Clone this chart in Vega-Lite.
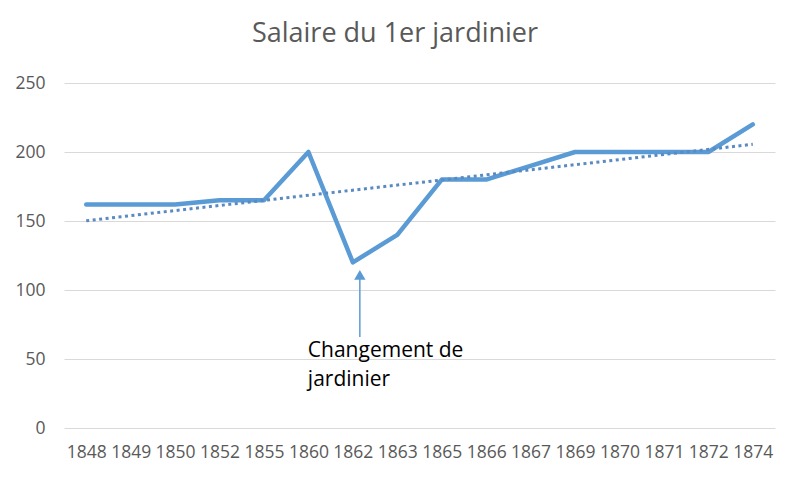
{
  "$schema": "https://vega.github.io/schema/vega-lite/v6.json",
  "width": 711,
  "height": 345,
  "autosize": {"type": "none"},
  "padding": {"left": 64, "top": 83, "right": 25, "bottom": 53},
  "background": "#FFFFFF",
  "config": {
    "view": {"stroke": null},
    "font": "Open Sans",
    "axis": {
      "labelFont": "Open Sans",
      "labelColor": "#595959",
      "labelFontSize": 17.5,
      "domain": false,
      "ticks": false,
      "title": null
    }
  },
  "title": {
    "text": "Salaire du 1er jardinier",
    "font": "Open Sans",
    "fontSize": 27,
    "fontWeight": "normal",
    "color": "#595959",
    "anchor": "middle",
    "frame": "bounds",
    "offset": 26
  },
  "datasets": {
    "salaires": [
      {"annee": "1848", "salaire": 162},
      {"annee": "1849", "salaire": 162},
      {"annee": "1850", "salaire": 162},
      {"annee": "1852", "salaire": 165},
      {"annee": "1855", "salaire": 165},
      {"annee": "1860", "salaire": 200},
      {"annee": "1862", "salaire": 120},
      {"annee": "1863", "salaire": 140},
      {"annee": "1865", "salaire": 180},
      {"annee": "1866", "salaire": 180},
      {"annee": "1867", "salaire": 190},
      {"annee": "1869", "salaire": 200},
      {"annee": "1870", "salaire": 200},
      {"annee": "1871", "salaire": 200},
      {"annee": "1872", "salaire": 200},
      {"annee": "1874", "salaire": 220}
    ],
    "annotation": [
      {"annee": "1862", "texte": "Changement de\njardinier"}
    ]
  },
  "layer": [
    {
      "layer": [
        {
          "data": {"name": "salaires"},
          "mark": {
            "type": "line",
            "color": "#5B9BD5",
            "strokeWidth": 4.5,
            "strokeCap": "round",
            "strokeJoin": "round"
          },
          "encoding": {
            "x": {
              "field": "annee",
              "type": "ordinal",
              "sort": null,
              "scale": {"type": "point", "padding": 0.5},
              "axis": {"labelAngle": 0, "labelPadding": 15}
            },
            "y": {
              "field": "salaire",
              "type": "quantitative",
              "scale": {"domain": [0, 250], "nice": false},
              "axis": {
                "values": [0, 50, 100, 150, 200, 250],
                "grid": true,
                "gridColor": "#D9D9D9",
                "gridWidth": 1.2,
                "labelPadding": 19
              }
            }
          }
        },
        {
          "data": {"name": "annotation"},
          "mark": {"type": "rule", "color": "#5B9BD5", "strokeWidth": 1.5, "xOffset": 7},
          "encoding": {
            "x": {"field": "annee", "type": "ordinal"},
            "y": {"datum": 66},
            "y2": {"datum": 110}
          }
        },
        {
          "data": {"name": "annotation"},
          "mark": {
            "type": "point",
            "shape": "triangle-up",
            "filled": true,
            "opacity": 1,
            "color": "#5B9BD5",
            "size": 130,
            "xOffset": 7
          },
          "encoding": {
            "x": {"field": "annee", "type": "ordinal"},
            "y": {"datum": 111}
          }
        },
        {
          "data": {"name": "annotation"},
          "mark": {
            "type": "text",
            "align": "left",
            "baseline": "alphabetic",
            "dx": -45,
            "fontSize": 21,
            "lineHeight": 29,
            "lineBreak": "\n",
            "color": "#000000"
          },
          "encoding": {
            "x": {"field": "annee", "type": "ordinal"},
            "y": {"datum": 51.5},
            "text": {"field": "texte"}
          }
        }
      ]
    },
    {
      "data": {"name": "salaires"},
      "transform": [
        {"window": [{"op": "row_number", "as": "rang"}]},
        {"regression": "salaire", "on": "rang", "extent": [1, 16]}
      ],
      "mark": {
        "type": "line",
        "color": "#5A8AC2",
        "strokeWidth": 3,
        "strokeDash": [3, 3.5]
      },
      "encoding": {
        "x": {
          "field": "rang",
          "type": "quantitative",
          "scale": {"domain": [0.5, 16.5], "nice": false, "zero": false},
          "axis": null
        },
        "y": {"field": "salaire", "type": "quantitative"}
      }
    }
  ],
  "resolve": {"scale": {"x": "independent"}}
}
